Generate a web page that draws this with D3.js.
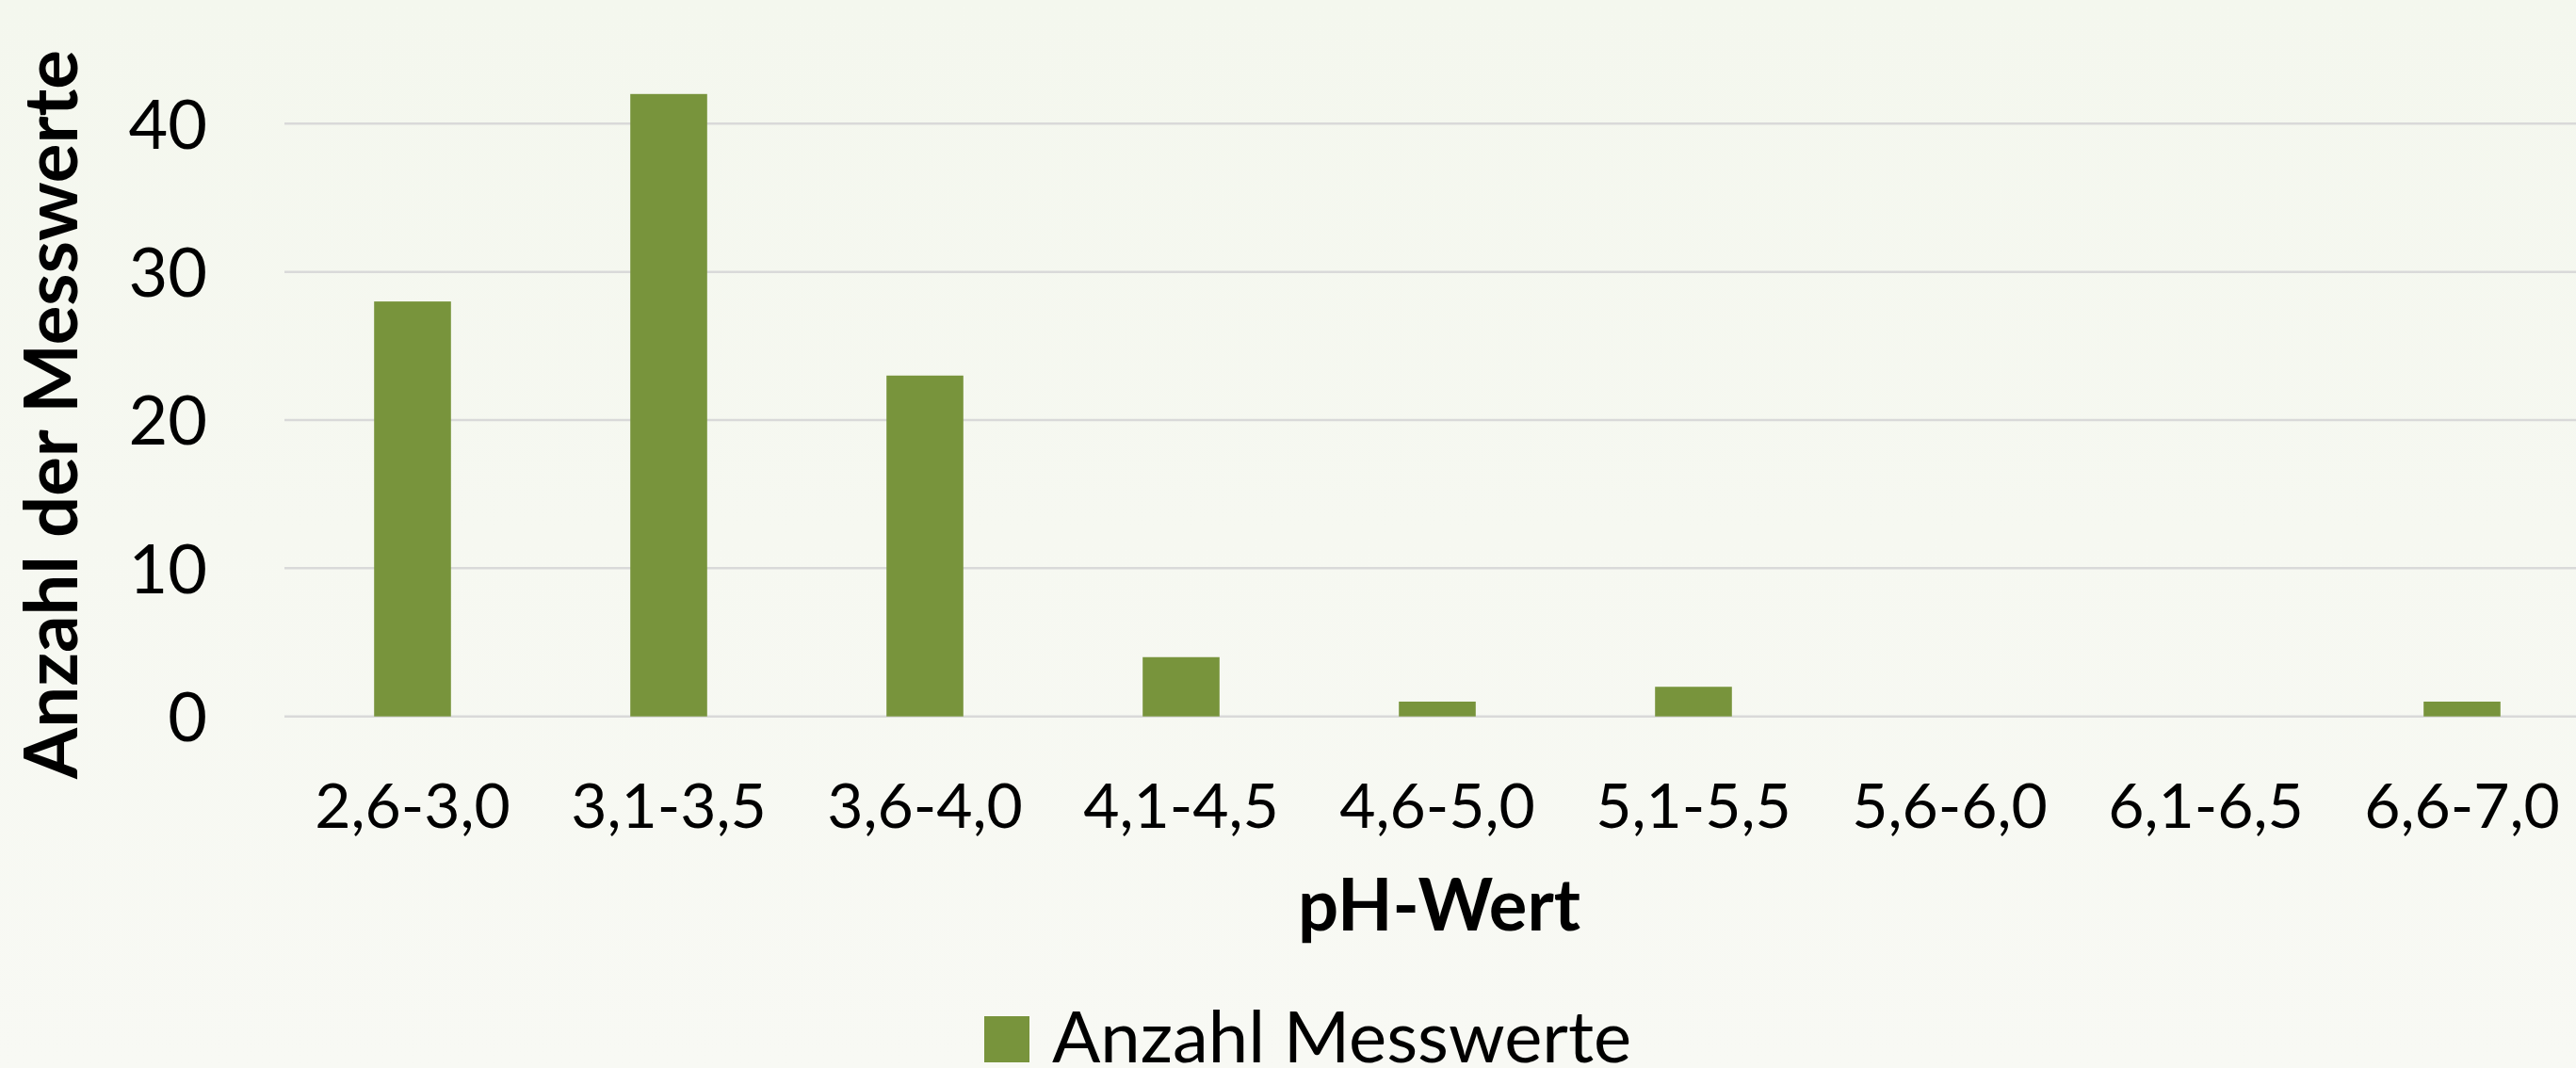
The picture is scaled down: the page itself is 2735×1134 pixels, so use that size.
<!DOCTYPE html>
<html>
<head>
<meta charset="utf-8">
<script src="https://cdn.jsdelivr.net/npm/d3@7"></script>
<style>
  html, body { margin: 0; padding: 0; }
  body { width: 2735px; height: 1134px; overflow: hidden; }
  svg { display: block; font-family: Lato, "Open Sans", sans-serif; }
</style>
</head>
<body>
<svg id="chart" width="2735" height="1134"></svg>
<script>
// pH classes and counts
var categories = ["2,6-3,0", "3,1-3,5", "3,6-4,0", "4,1-4,5", "4,6-5,0", "5,1-5,5", "5,6-6,0", "6,1-6,5", "6,6-7,0"];
var counts = [28, 42, 23, 4, 1, 2, 0, 0, 1];
var yTicks = [0, 10, 20, 30, 40];
var seriesName = "Anzahl Messwerte";

var WIDTH = 2735, HEIGHT = 1134;
var svg = d3.select('#chart');

// soft background gradient
var defs = svg.append('defs');
var grad = defs.append('linearGradient')
    .attr('id', 'bg')
    .attr('x1', 0).attr('y1', 0).attr('x2', 0).attr('y2', 1);
grad.append('stop').attr('offset', '0%').attr('stop-color', '#f4f7ee');
grad.append('stop').attr('offset', '100%').attr('stop-color', '#f8f9f4');

svg.append('rect')
    .attr('width', WIDTH)
    .attr('height', HEIGHT)
    .attr('fill', 'url(#bg)');

var x = d3.scaleBand()
    .domain(categories)
    .range([302, 2750])
    .paddingInner(0.7)
    .paddingOuter(0.35);

var y = d3.scaleLinear()
    .domain([0, 45])
    .range([760.7, 52.6]);

// gridlines
svg.append('g')
    .attr('class', 'grid')
    .selectAll('line')
    .data(yTicks)
    .enter()
    .append('line')
    .attr('x1', x.range()[0])
    .attr('x2', x.range()[1])
    .attr('y1', function(d){ return y(d); })
    .attr('y2', function(d){ return y(d); })
    .style('stroke', '#d9d9d9')
    .style('stroke-width', 2.5);

// bars
svg.append('g')
    .selectAll('.bar')
    .data(counts)
    .enter()
    .append('rect')
    .attr('class', 'bar')
    .attr('x', function(d, i){ return x(categories[i]); })
    .attr('y', function(d){ return y(d); })
    .attr('width', x.bandwidth())
    .attr('height', function(d){ return y(0) - y(d); })
    .style('fill', '#78943c');

// y axis labels
var yAxis = d3.axisLeft(y).tickValues(yTicks).tickSize(0).tickPadding(0);
svg.append('g')
    .attr('transform', 'translate(220,0)')
    .call(yAxis)
    .call(function(g){ g.select('.domain').remove(); })
    .selectAll('text')
    .attr('dy', '0.36em')
    .style('font-family', 'Lato, "Open Sans", sans-serif')
    .style('font-size', '72px')
    .style('fill', '#000');

// x axis labels
var xAxis = d3.axisBottom(x).tickSize(0).tickPadding(0);
svg.append('g')
    .attr('transform', 'translate(0,879)')
    .call(xAxis)
    .call(function(g){ g.select('.domain').remove(); })
    .selectAll('text')
    .attr('y', 0)
    .attr('dy', 0)
    .style('font-family', 'Lato, "Open Sans", sans-serif')
    .style('font-size', '66px')
    .style('fill', '#000');

// axis titles
svg.append('text')
    .attr('transform', 'translate(82,440) rotate(-90)')
    .attr('text-anchor', 'middle')
    .style('font-size', '78px')
    .style('font-weight', 'bold')
    .style('fill', '#000')
    .text('Anzahl der Messwerte');

svg.append('text')
    .attr('x', 1528)
    .attr('y', 988)
    .attr('text-anchor', 'middle')
    .style('font-size', '76px')
    .style('font-weight', 'bold')
    .style('fill', '#000')
    .text('pH-Wert');

// legend
var legend = svg.append('g').attr('class', 'legend');
legend.append('rect')
    .attr('x', 1045)
    .attr('y', 1079)
    .attr('width', 48)
    .attr('height', 49)
    .style('fill', '#78943c');
legend.append('text')
    .attr('x', 1117)
    .attr('y', 1128)
    .style('font-size', '76px')
    .style('fill', '#000')
    .text(seriesName);
</script>
</body>
</html>
